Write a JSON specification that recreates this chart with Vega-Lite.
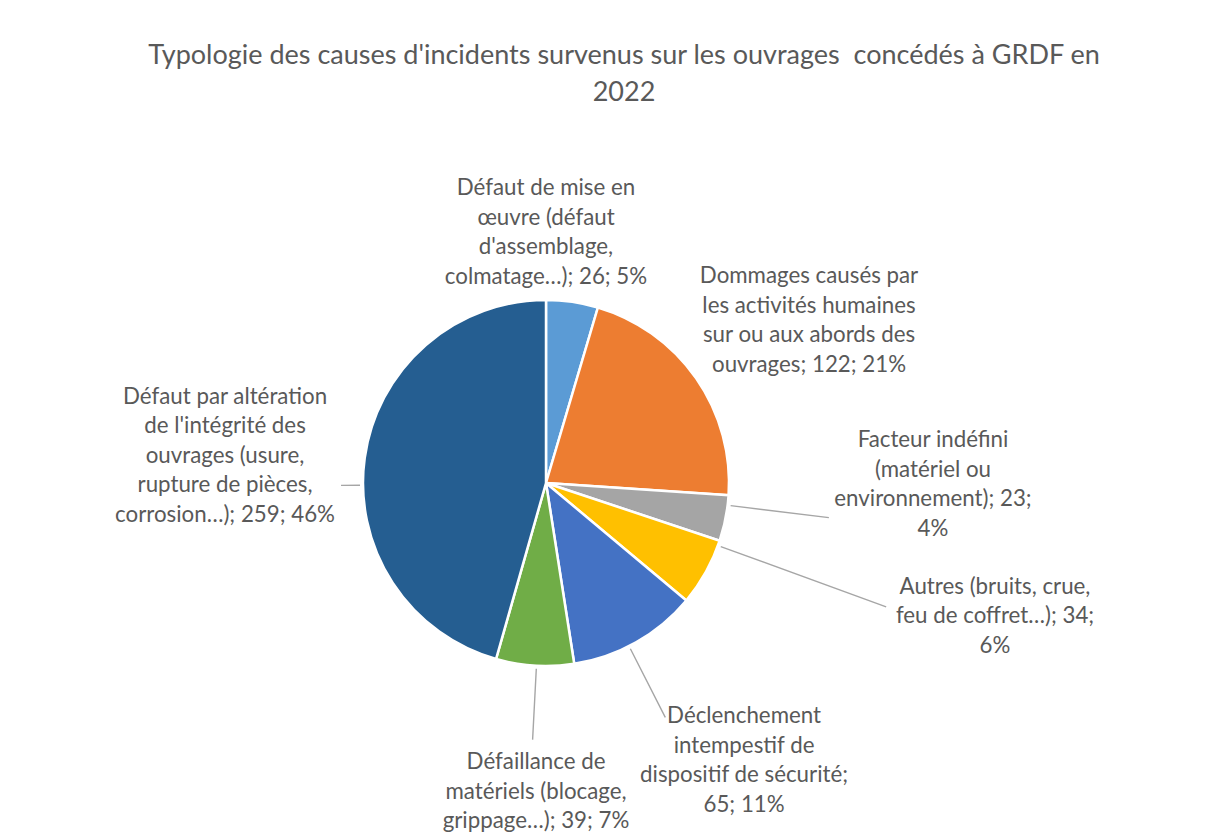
{
  "$schema": "https://vega.github.io/schema/vega-lite/v6.json",
  "width": 1092,
  "height": 700,
  "autosize": {"type": "none"},
  "padding": {"left": 0, "top": 133, "right": 134, "bottom": 1},
  "background": "white",
  "config": {"view": {"stroke": null}},
  "title": {
    "text": ["Typologie des causes d'incidents survenus sur les ouvrages\u00a0 concédés à GRDF en", "2022"],
    "font": "Lato",
    "fontSize": 27,
    "fontWeight": "normal",
    "color": "#595959",
    "anchor": "middle",
    "frame": "group",
    "dx": 78,
    "offset": 26,
    "lineHeight": 37
  },
  "data": {
    "values": [
      {"k": 1, "cause": "Défaut de mise en œuvre", "count": 26, "label": "Défaut de mise en\nœuvre (défaut\nd'assemblage,\ncolmatage…); 26; 5%"},
      {"k": 2, "cause": "Dommages causés par les activités humaines", "count": 122, "label": "Dommages causés par\nles activités humaines\nsur ou aux abords des\nouvrages; 122; 21%"},
      {"k": 3, "cause": "Facteur indéfini", "count": 23, "label": "Facteur indéfini\n(matériel ou\nenvironnement); 23;\n4%"},
      {"k": 4, "cause": "Autres", "count": 34, "label": "Autres (bruits, crue,\nfeu de coffret…); 34;\n6%"},
      {"k": 5, "cause": "Déclenchement intempestif", "count": 65, "label": "Déclenchement\nintempestif de\ndispositif de sécurité;\n65; 11%"},
      {"k": 6, "cause": "Défaillance de matériels", "count": 39, "label": "Défaillance de\nmatériels (blocage,\ngrippage…); 39; 7%"},
      {"k": 7, "cause": "Défaut par altération", "count": 259, "label": "Défaut par altération\nde l'intégrité des\nouvrages (usure,\nrupture de pièces,\ncorrosion…); 259; 46%"}
    ]
  },
  "encoding": {
    "theta": {"field": "count", "type": "quantitative", "stack": true},
    "order": {"field": "k", "type": "quantitative"}
  },
  "layer": [
    {
      "mark": {"type": "arc", "outerRadius": 183, "stroke": "white", "strokeWidth": 2.5},
      "encoding": {
        "color": {
          "field": "cause",
          "type": "nominal",
          "scale": {
            "domain": ["Défaut de mise en œuvre", "Dommages causés par les activités humaines", "Facteur indéfini", "Autres", "Déclenchement intempestif", "Défaillance de matériels", "Défaut par altération"],
            "range": ["#5B9BD5", "#ED7D31", "#A5A5A5", "#FFC000", "#4472C4", "#70AD47", "#255E91"]
          },
          "legend": null
        }
      }
    },
    {
      "mark": {
        "type": "arc",
        "innerRadius": 186,
        "outerRadius": {"expr": "[186,186,285,362,263,257,205][datum.k-1]"},
        "padAngle": 3,
        "thetaOffset": {"expr": "[0,0,-0.0716,-0.1598,0.0436,-0.0087,-0.15][datum.k-1]"},
        "theta2Offset": {"expr": "[0,0,-0.0716,-0.1598,0.0436,-0.0087,-0.15][datum.k-1]"},
        "stroke": "#A6A6A6",
        "strokeWidth": 1.4,
        "fillOpacity": 0,
        "strokeOpacity": {"expr": "datum.k > 2 ? 1 : 0"}
      },
      "encoding": {"detail": {"field": "cause", "type": "nominal"}}
    },
    {
      "mark": {
        "type": "text",
        "font": "Lato",
        "fontSize": 22.3,
        "lineHeight": 29.5,
        "fill": "#595959",
        "align": "center",
        "baseline": "middle",
        "lineBreak": "\n",
        "radius": {"expr": "[295,334.7,389.4,460.9,305.8,279.2,332.3][datum.k-1]"},
        "thetaOffset": {"expr": "[-0.1438,-0.0583,-0.3042,-0.2813,-0.1901,-0.0251,0.1236][datum.k-1]"}
      },
      "encoding": {
        "detail": {"field": "cause", "type": "nominal"},
        "text": {"field": "label", "type": "nominal"}
      }
    }
  ]
}
